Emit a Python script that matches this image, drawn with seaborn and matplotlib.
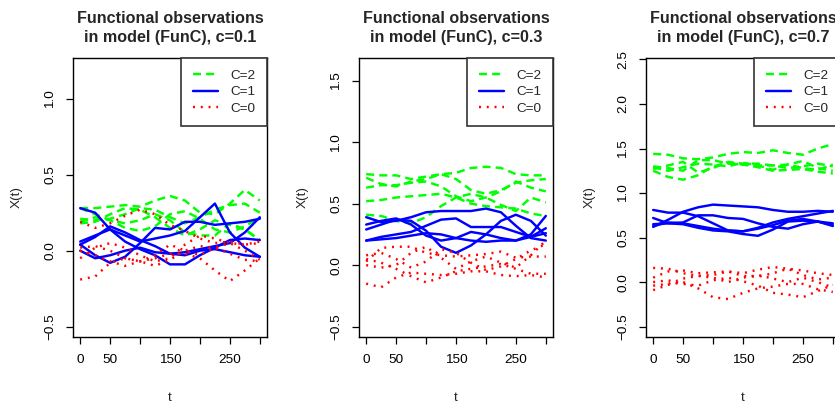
import numpy as np
import pandas as pd
import matplotlib
matplotlib.use("Agg")
import matplotlib.pyplot as plt
import seaborn as sns
from matplotlib.lines import Line2D

# ---------------- data ----------------
t_grid = [0, 25, 50, 75, 100, 125, 150, 175, 200, 225, 250, 275, 300]

# panel 1: c = 0.1
p1_c2 = [
    [0.28, 0.28, 0.29, 0.30, 0.29, 0.33, 0.36, 0.33, 0.25, 0.24, 0.31, 0.40, 0.33],
    [0.21, 0.20, 0.21, 0.24, 0.28, 0.27, 0.22, 0.18, 0.22, 0.27, 0.30, 0.31, 0.25],
    [0.19, 0.22, 0.20, 0.15, 0.13, 0.16, 0.24, 0.26, 0.21, 0.14, 0.12, 0.16, 0.22],
    [0.28, 0.24, 0.20, 0.18, 0.20, 0.24, 0.20, 0.12, 0.10, 0.10, 0.18, 0.14, 0.07],
    [0.18, 0.19, 0.24, 0.28, 0.27, 0.22, 0.15, 0.10, 0.14, 0.20, 0.17, 0.14, 0.07],
]
p1_c1 = [
    [0.28, 0.25, 0.14, 0.06, 0.01, -0.03, -0.09, -0.09, -0.03, 0.02, 0.07, 0.08, 0.07],
    [0.06, 0.10, 0.14, 0.10, 0.06, 0.08, 0.10, 0.13, 0.22, 0.31, 0.12, 0.02, -0.04],
    [0.04, -0.03, -0.08, -0.04, 0.05, 0.15, 0.14, 0.19, 0.19, 0.17, 0.18, 0.19, 0.21],
    [0.00, -0.05, -0.03, 0.00, 0.02, -0.01, -0.02, -0.01, 0.01, 0.03, 0.05, 0.12, 0.22],
    [0.04, 0.09, 0.16, 0.12, 0.07, 0.03, -0.02, -0.03, 0.00, 0.01, -0.01, -0.03, -0.04],
]
p1_c0 = [
    [-0.19, -0.17, -0.08, -0.05, -0.07, -0.10, -0.06, 0.00, 0.03, 0.02, -0.02, -0.06, -0.07],
    [0.02, 0.03, 0.00, -0.05, -0.07, -0.05, -0.02, -0.02, -0.05, -0.13, -0.20, -0.13, -0.05],
    [0.19, 0.15, 0.18, 0.23, 0.27, 0.24, 0.17, 0.13, 0.08, 0.05, 0.06, 0.04, 0.05],
    [-0.05, 0.02, 0.05, 0.02, -0.03, -0.07, -0.05, 0.04, 0.10, 0.08, 0.05, 0.04, 0.06],
    [0.00, -0.03, -0.07, -0.10, -0.07, -0.03, 0.04, 0.00, -0.03, 0.02, 0.05, 0.00, -0.06],
]

# panel 2: c = 0.3
p2_c2 = [
    [0.74, 0.73, 0.73, 0.70, 0.72, 0.74, 0.75, 0.79, 0.80, 0.79, 0.74, 0.73, 0.73],
    [0.71, 0.66, 0.64, 0.68, 0.70, 0.74, 0.70, 0.61, 0.58, 0.61, 0.67, 0.69, 0.70],
    [0.63, 0.65, 0.65, 0.67, 0.68, 0.64, 0.56, 0.52, 0.55, 0.60, 0.68, 0.63, 0.60],
    [0.52, 0.53, 0.55, 0.56, 0.57, 0.58, 0.55, 0.50, 0.48, 0.47, 0.46, 0.42, 0.40],
    [0.41, 0.40, 0.36, 0.34, 0.39, 0.48, 0.55, 0.58, 0.55, 0.49, 0.44, 0.55, 0.51],
]
p2_c1 = [
    [0.39, 0.35, 0.36, 0.39, 0.43, 0.44, 0.44, 0.44, 0.46, 0.43, 0.32, 0.22, 0.20],
    [0.29, 0.33, 0.37, 0.36, 0.28, 0.15, 0.10, 0.16, 0.25, 0.36, 0.41, 0.36, 0.24],
    [0.33, 0.36, 0.38, 0.33, 0.24, 0.20, 0.22, 0.27, 0.25, 0.22, 0.20, 0.23, 0.30],
    [0.20, 0.23, 0.25, 0.27, 0.32, 0.37, 0.38, 0.31, 0.31, 0.31, 0.27, 0.23, 0.26],
    [0.20, 0.21, 0.22, 0.24, 0.26, 0.25, 0.22, 0.20, 0.19, 0.20, 0.20, 0.25, 0.40],
]
p2_c0 = [
    [-0.15, -0.18, -0.10, -0.06, -0.07, -0.08, -0.07, -0.05, -0.05, -0.08, -0.09, -0.08, -0.10],
    [0.05, 0.02, -0.03, -0.09, -0.14, -0.10, -0.05, -0.03, -0.01, 0.01, -0.03, -0.07, -0.07],
    [0.03, 0.14, 0.15, 0.15, 0.10, 0.08, 0.07, 0.08, 0.09, 0.11, 0.06, 0.07, 0.07],
    [0.08, 0.10, 0.05, -0.02, 0.03, 0.13, 0.10, 0.02, -0.04, -0.01, 0.05, 0.12, 0.17],
    [0.00, -0.02, 0.00, 0.10, 0.15, 0.06, -0.03, 0.03, 0.07, 0.02, -0.02, 0.08, 0.20],
]

# panel 3: c = 0.7
p3_c2 = [
    [1.44, 1.43, 1.39, 1.38, 1.40, 1.44, 1.46, 1.45, 1.48, 1.45, 1.43, 1.50, 1.55],
    [1.30, 1.28, 1.25, 1.37, 1.37, 1.33, 1.32, 1.31, 1.31, 1.32, 1.28, 1.26, 1.32],
    [1.25, 1.18, 1.15, 1.20, 1.30, 1.34, 1.32, 1.29, 1.25, 1.26, 1.27, 1.24, 1.22],
    [1.27, 1.31, 1.35, 1.23, 1.28, 1.35, 1.33, 1.33, 1.31, 1.28, 1.30, 1.33, 1.30],
    [1.29, 1.25, 1.29, 1.33, 1.32, 1.30, 1.34, 1.31, 1.26, 1.32, 1.36, 1.28, 1.25],
]
p3_c1 = [
    [0.62, 0.70, 0.79, 0.84, 0.87, 0.86, 0.85, 0.84, 0.81, 0.79, 0.79, 0.80, 0.79],
    [0.81, 0.78, 0.78, 0.74, 0.66, 0.58, 0.57, 0.61, 0.67, 0.71, 0.74, 0.77, 0.80],
    [0.72, 0.66, 0.67, 0.75, 0.75, 0.72, 0.71, 0.66, 0.62, 0.60, 0.65, 0.68, 0.63],
    [0.65, 0.66, 0.65, 0.61, 0.58, 0.57, 0.54, 0.52, 0.59, 0.68, 0.69, 0.68, 0.66],
    [0.63, 0.67, 0.66, 0.63, 0.60, 0.58, 0.57, 0.60, 0.64, 0.69, 0.71, 0.68, 0.64],
]
p3_c0 = [
    [0.16, 0.15, 0.10, 0.07, 0.08, 0.12, 0.10, 0.14, 0.17, 0.15, 0.13, 0.10, 0.08],
    [0.05, 0.12, 0.13, 0.10, 0.11, 0.12, 0.07, 0.06, 0.10, 0.15, 0.08, 0.03, 0.05],
    [-0.09, -0.03, 0.00, -0.07, -0.17, -0.19, -0.12, -0.07, -0.05, -0.02, -0.02, -0.08, -0.11],
    [0.00, 0.02, -0.02, -0.04, 0.02, 0.05, 0.01, -0.04, -0.12, -0.14, -0.17, -0.10, -0.03],
    [-0.04, -0.02, 0.04, 0.07, 0.05, 0.00, 0.05, 0.08, 0.04, 0.00, 0.05, 0.00, -0.06],
]

c_values = ["0.1", "0.3", "0.7"]
group_labels = ["C=2", "C=1", "C=0"]
x_ticks = [0, 50, 100, 150, 200, 250, 300]
x_tick_labels = ["0", "50", "", "150", "", "250", ""]
y_ranges = [(-0.5, 1.2), (-0.5, 1.6), (-0.5, 2.4)]
y_ticks = [[-0.5, 0.0, 0.5, 1.0],
           [-0.5, 0.0, 0.5, 1.0, 1.5],
           [-0.5, 0.0, 0.5, 1.0, 1.5, 2.0, 2.5]]

panels = [(p1_c2, p1_c1, p1_c0), (p2_c2, p2_c1, p2_c0), (p3_c2, p3_c1, p3_c0)]

# ---------------- styling ----------------
sns.set_style("ticks")
plt.rcParams["font.family"] = ["Liberation Sans", "DejaVu Sans"]

palette = {"C=2": "#00ff00", "C=1": "#0000ff", "C=0": "#ff0000"}
dash_map = {"C=2": (3.3, 2.1), "C=1": "", "C=0": (0.8, 2.4)}
LW = 1.75
TICK_FS = 9.7

W, H = 835, 405
fig = plt.figure(figsize=(W / 100, H / 100), dpi=100)
lefts = [73, 359, 646]
box_top, box_bot, box_w = 58, 337, 194

for i, (groups, c) in enumerate(zip(panels, c_values)):
    rows = []
    for lab, curves in zip(group_labels, groups):
        for k, vals in enumerate(curves):
            for tt, v in zip(t_grid, vals):
                rows.append({"t": tt, "X": v, "C": lab, "id": f"{lab}_{k}"})
    df = pd.DataFrame(rows)

    ax = fig.add_axes([lefts[i] / W, (H - box_bot) / H, box_w / W, (box_bot - box_top) / H])
    sns.lineplot(data=df, x="t", y="X", hue="C", style="C", units="id",
                 estimator=None, hue_order=group_labels, style_order=group_labels,
                 palette=palette, dashes=dash_map, linewidth=LW, legend=False, ax=ax)

    lo, hi = y_ranges[i]
    pad = (hi - lo) * 0.04
    ax.set_ylim(lo - pad, hi + pad)
    ax.set_xlim(-12, 312)
    ax.set_xticks(x_ticks)
    ax.set_xticklabels(x_tick_labels)
    ax.set_yticks(y_ticks[i])
    ax.set_yticklabels([f"{v:.1f}".replace("-", "\u2212") for v in y_ticks[i]],
                       rotation=90, va="center")
    ax.tick_params(axis="both", direction="out", length=5, width=0.9,
                   color="black", labelsize=TICK_FS, labelcolor="black")
    ax.tick_params(axis="x", pad=7.5)
    ax.tick_params(axis="y", pad=7)
    for sp in ax.spines.values():
        sp.set_visible(True)
        sp.set_color("black")
        sp.set_linewidth(1.0)

    ax.set_xlabel("t", fontsize=TICK_FS)
    ax.set_ylabel("X(t)", fontsize=TICK_FS)
    ax.xaxis.set_label_coords(0.5, -0.197)
    ax.yaxis.set_label_coords(-0.26, 0.5)
    ax.set_title(f"Functional observations\nin model (FunC), c={c}",
                 fontsize=11.6, fontweight="bold", pad=11.5, linespacing=1.3)

    handles = []
    for g in group_labels:
        h = Line2D([0], [0], color=palette[g], lw=LW)
        if dash_map[g]:
            h.set_dashes(dash_map[g])
        handles.append(h)
    leg = ax.legend(handles, group_labels, loc="upper right", borderaxespad=0,
                    frameon=True, fancybox=False, framealpha=1, edgecolor="#333333",
                    fontsize=TICK_FS, handlelength=1.85, handletextpad=0.95,
                    borderpad=0.85, labelspacing=0.3)
    leg.get_frame().set_linewidth(1.2)

fig.savefig("out.png", dpi=100)
